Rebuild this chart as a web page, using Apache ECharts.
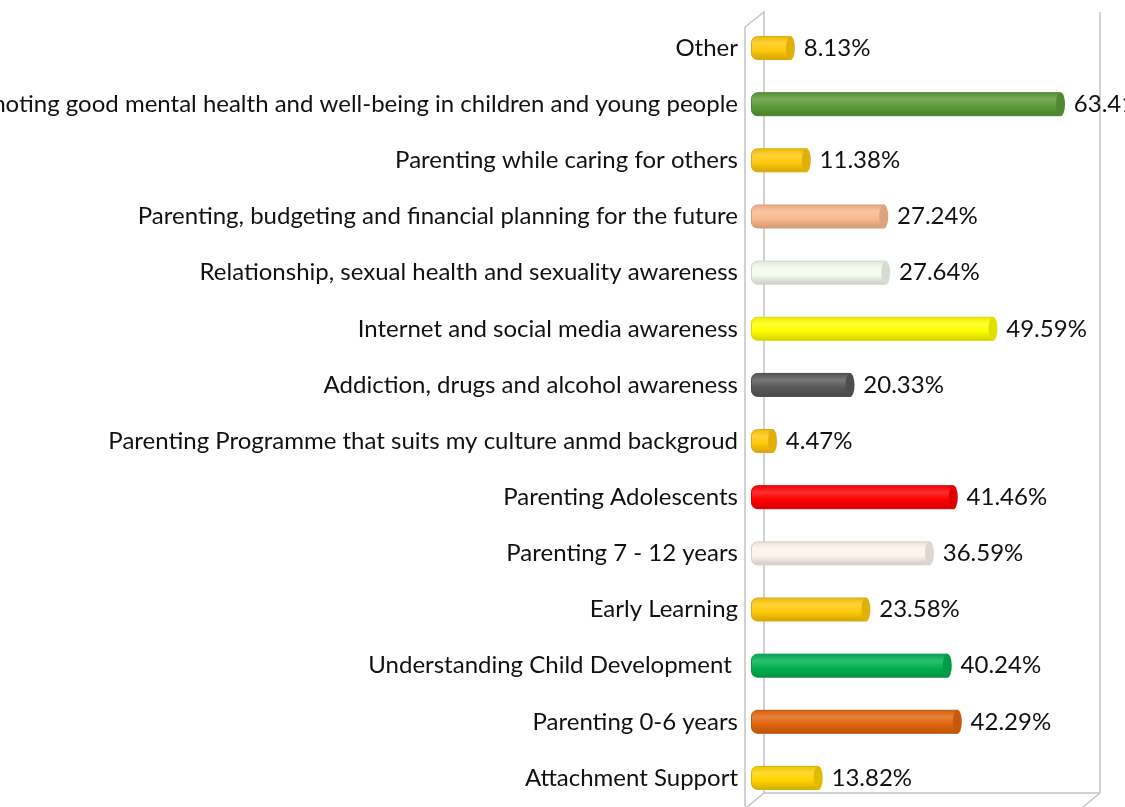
<!DOCTYPE html>
<html>
<head>
<meta charset="utf-8">
<script src="https://cdn.jsdelivr.net/npm/echarts@6/dist/echarts.min.js"></script>
<style>
  html, body { margin: 0; padding: 0; background: #fff; }
  #chart { width: 1125px; height: 807px; }
</style>
</head>
<body>
<div id="chart"></div>
<script>
// categories, top to bottom
var categories = [
  "Other",
  "Promoting good mental health and well-being in children and young people",
  "Parenting while caring for others",
  "Parenting, budgeting and financial planning for the future",
  "Relationship, sexual health and sexuality awareness",
  "Internet and social media awareness",
  "Addiction, drugs and alcohol awareness",
  "Parenting Programme that suits my culture anmd backgroud",
  "Parenting Adolescents",
  "Parenting 7 - 12 years",
  "Early Learning",
  "Understanding Child Development ",
  "Parenting 0-6 years",
  "Attachment Support"
];
var values = [8.13, 63.41, 11.38, 27.24, 27.64, 49.59, 20.33, 4.47, 41.46, 36.59, 23.58, 40.24, 42.29, 13.82];

// bar colours (style only)
var barColors = [
  "#FFC80A", "#5C9A38", "#FFC80A", "#F9BA8E", "#F3FAEE", "#FFFF00", "#595959",
  "#FFC80A", "#FF0000", "#FDF3EC", "#FFC80A", "#00B050", "#E2650E", "#FFD200"
];

function shade(hex, amt) {
  var n = parseInt(hex.slice(1), 16);
  var r = (n >> 16) & 255, g = (n >> 8) & 255, b = n & 255;
  function f(c) {
    c = amt >= 0 ? c + (255 - c) * amt : c * (1 + amt);
    return Math.max(0, Math.min(255, Math.round(c)));
  }
  return "rgb(" + f(r) + "," + f(g) + "," + f(b) + ")";
}

function cylinder(c) {
  return new echarts.graphic.LinearGradient(0, 0, 0, 1, [
    { offset: 0, color: shade(c, -0.08) },
    { offset: 0.3, color: shade(c, 0.18) },
    { offset: 0.6, color: c },
    { offset: 1, color: shade(c, -0.18) }
  ]);
}

var barData = values.map(function (v, i) {
  return {
    value: v,
    itemStyle: {
      color: cylinder(barColors[i]),
      borderColor: shade(barColors[i], -0.15),
      borderWidth: 1
    }
  };
});
var capData = values.map(function (v, i) {
  return {
    value: v,
    itemStyle: {
      color: shade(barColors[i], -0.12),
      borderColor: shade(barColors[i], 0.35),
      borderWidth: 1
    }
  };
});

var chart = echarts.init(document.getElementById("chart"));
var frame = "#C4C4C4";
chart.setOption({
  backgroundColor: "#fff",
  animation: false,
  grid: { left: 751, right: 32, top: 20, bottom: 1, containLabel: false, outerBoundsMode: "none" },
  xAxis: {
    type: "value",
    min: 0,
    max: 70,
    show: false
  },
  yAxis: {
    type: "category",
    inverse: true,
    data: categories,
    axisLine: { show: false },
    axisTick: { show: false },
    axisLabel: {
      margin: 13,
      fontFamily: "Lato",
      fontSize: 24,
      color: "#111",
      padding: [5, 0, 0, 0]
    }
  },
  // 3D box walls
  graphic: [
    { type: "polyline", shape: { points: [[745, 807], [745, 27], [764, 12], [764, 793], [1100, 793], [1100, 12]] },
      style: { stroke: frame, lineWidth: 1.5, fill: null }, z: 0 },
    { type: "line", shape: { x1: 764, y1: 793, x2: 747, y2: 807 }, style: { stroke: frame, lineWidth: 1.5 } },
    { type: "line", shape: { x1: 1100, y1: 793, x2: 1083, y2: 807 }, style: { stroke: frame, lineWidth: 1.5 } }
  ],
  series: [
    {
      type: "bar",
      data: barData,
      barWidth: 24,
      z: 2,
      itemStyle: { borderRadius: [6, 0, 0, 6] },
      label: {
        show: true,
        position: "right",
        distance: 13,
        fontFamily: "Lato",
        fontSize: 24,
        color: "#111",
        formatter: function (p) { return p.value.toFixed(2) + "%"; }
      }
    },
    {
      type: "pictorialBar",
      data: capData,
      symbol: "circle",
      symbolSize: [9, 24],
      symbolPosition: "end",
      symbolOffset: ["50%", 0],
      barGap: "-100%",
      z: 3
    }
  ]
});
</script>
</body>
</html>
